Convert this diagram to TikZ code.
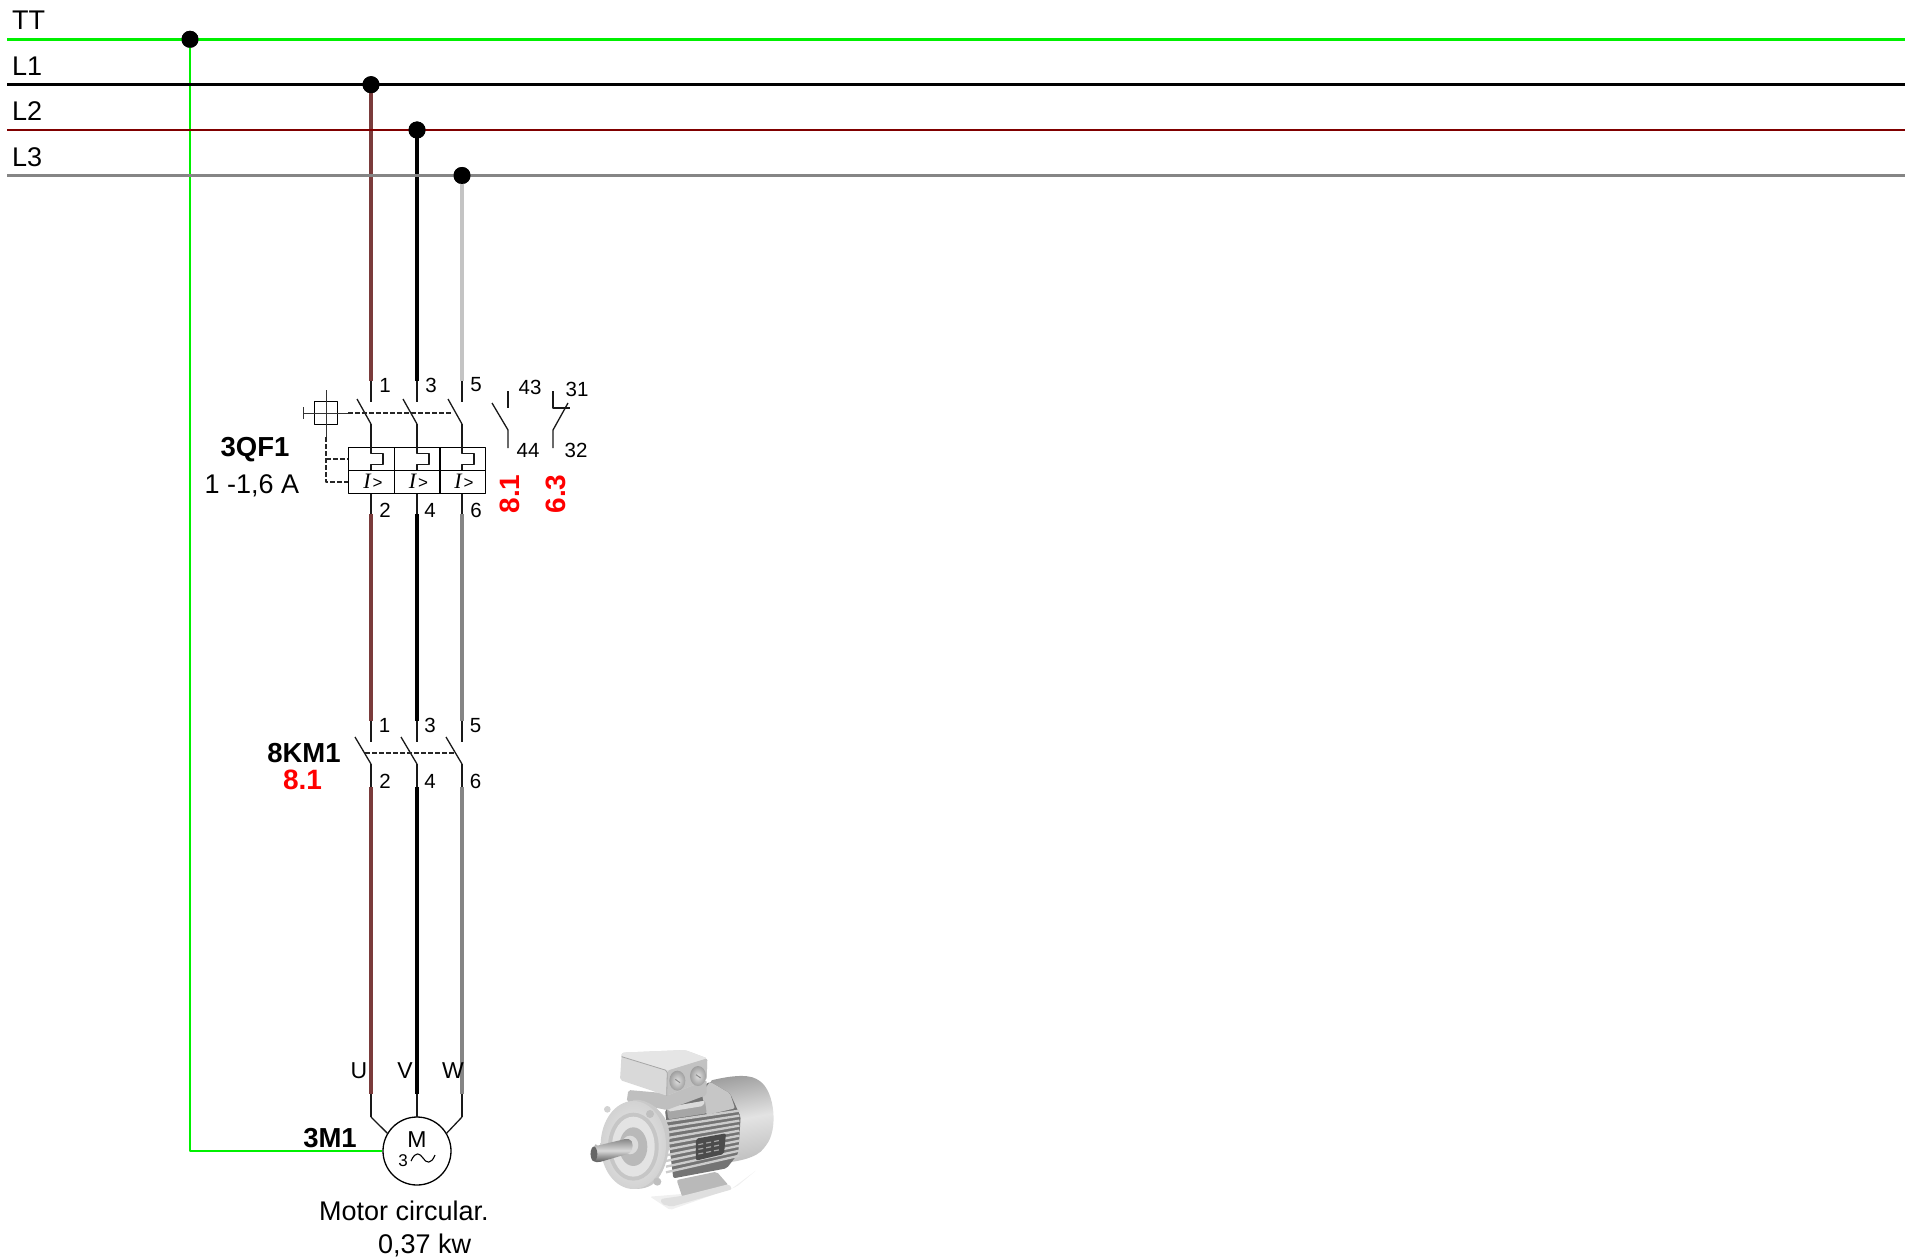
\documentclass[tikz,border=0pt]{standalone}
\usepackage{fontspec}
\usetikzlibrary{calc}
\setmainfont{Liberation Sans}
\newfontfamily\serifit{Liberation Serif}
\newfontfamily\sansgt{Liberation Sans}
\definecolor{gnd}{HTML}{00F000}
\definecolor{lb}{HTML}{800000}
\definecolor{brw}{HTML}{7A3B3B}
\definecolor{lg}{HTML}{C4C4C4}
\definecolor{mg}{HTML}{858585}
\definecolor{mred}{HTML}{FF0000}
\tikzset{
  thin line/.style={line width=1.3pt,black!90},
  bus/.style={line width=2.8pt},
  wire/.style={line width=3.8pt},
  ctrl/.style={line width=1.1pt,black!85,dash pattern=on 4.5pt off 2.5pt},
  dot/.style={circle,fill=black,inner sep=0pt,minimum size=17pt},
  sm/.style={font=\fontsize{20.5}{20.5}\selectfont,inner sep=0pt,anchor=base},
  big/.style={font=\fontsize{27}{27}\selectfont,inner sep=0pt,anchor=base},
  bold/.style={font=\fontsize{27.5}{27.5}\selectfont\bfseries,inner sep=0pt,anchor=base},
  redb/.style={font=\fontsize{28}{28}\selectfont\bfseries,text=mred,inner sep=0pt},
  mot/.style={font=\fontsize{23}{23}\selectfont,inner sep=0pt,anchor=base},
  il/.style={font=\fontsize{22}{22}\selectfont\serifit,inner sep=0pt,anchor=base},
  cell/.style={draw=black,line width=1.2pt}
}
\begin{document}
\begin{tikzpicture}[x=1pt,y=-1pt,line join=round]
\useasboundingbox (0,0) rectangle (1905,1260);
% bus ends
\foreach \n/\y in {TT/39.3,A/84.7,B/130,C/175.5}{
  \coordinate (s\n) at (7,\y); \coordinate (e\n) at (1905,\y);}
\node[dot] (dT) at (190,39.3) {};
\node[dot] (dA) at (371,84.7) {};
\node[dot] (dB) at (417,130) {};
\node[dot] (dC) at (462,175.5) {};
\node[circle,draw=black,line width=1.3pt,minimum size=68pt,inner sep=0pt,fill=white] (motor) at (417,1151) {};
% vertical drops first (under buses)
\draw[gnd,line width=2.8pt] (dT.center) |- (motor.west);
\foreach \d/\x/\c/\cc in {A/371/brw/brw,B/417/black/black,C/462/lg/mg}{
  \coordinate (t1\d) at (\x,381); \coordinate (t2\d) at (\x,402);
  \coordinate (h\d) at (\x,424); \coordinate (q1\d) at (\x,447);
  \coordinate (q2\d) at (\x,493); \coordinate (t3\d) at (\x,514);
  \coordinate (t4\d) at (\x,721); \coordinate (t5\d) at (\x,742);
  \coordinate (k\d) at (\x,764); \coordinate (t6\d) at (\x,787);
  \coordinate (t7\d) at (\x,1094); \coordinate (t8\d) at (\x,1117);
  \draw[wire,\c] (d\d.center) -- (t1\d);
  \draw[thin line] (t1\d) -- (t2\d);
  \draw[thin line] (h\d) -- (q1\d);
  \draw[thin line] (q2\d) -- (t3\d);
  \draw[wire,\cc] (t3\d) -- (t4\d);
  \draw[thin line] (t4\d) -- (t5\d);
  \draw[thin line] (k\d) -- (t6\d);
  \draw[wire,\cc] (t6\d) -- (t7\d);
  \draw[thin line] (t7\d) -- (t8\d);
  \draw[thin line] ($(h\d)+(-14,-25)$) -- (h\d);
  \draw[thin line] ($(k\d)+(-16,-27)$) -- (k\d);
}
% buses
\draw[bus,gnd] (sTT) -- (eTT);
\draw[bus,black] (sA) -- (eA);
\draw[bus,lb] (sB) -- (eB);
\draw[bus,mg] (sC) -- (eC);
\node[dot] at (dT) {}; \node[dot] at (dA) {}; \node[dot] at (dB) {}; \node[dot] at (dC) {};
\node[big,anchor=base west] (lT) at (12,29.5) {TT};
\node[big,anchor=base west] (l1) at (12,76) {L1};
\node[big,anchor=base west] (l2) at (12,121) {L2};
\node[big,anchor=base west] (l3) at (12,166.5) {L3};
% motor feeders
\draw[thin line] (t8A) -- (motor.149);
\draw[thin line] (t8B) -- (motor.north);
\draw[thin line] (t8C) -- (motor.31);
% breaker block
\foreach \x/\d in {348/A,394/B,439/C}{
  \node[cell,minimum width=46pt,minimum height=23pt,anchor=north west,inner sep=0pt] (u\d) at (\x,447) {};
  \node[cell,minimum width=46pt,minimum height=23pt,anchor=north west,inner sep=0pt] (v\d) at (\x,470) {};
}
\foreach \d in {A,B,C}{
  \draw[thin line] (q1\d) -- ++(0,6.5) -- ++(12,0) -- ++(0,11) -- ++(-12,0) -- ++(0,5.5);
}
\foreach \d/\x in {A/373,B/418.5,C/464}{
  \node[il] (i\d) at (\x,488) {\textit{I}\kern1pt{\fontsize{17}{17}\sansgt\selectfont>}};
}
% manual operator
\node[draw=black,line width=1.2pt,minimum size=23pt,inner sep=0pt] (op) at (326,413) {};
\coordinate (c1) at (326,390); \coordinate (c2) at (326,437);
\coordinate (c3) at (303,413); \coordinate (c4) at (348,413);
\coordinate (c5) at (453,413);
\coordinate (c6) at (326,459); \coordinate (c7) at (326,482);
\draw[line width=1pt,black!80] (c1) -- (c2);
\draw[line width=1pt,black!80] (c3) -- (c4);
\draw[line width=1pt,black!80] (303,407) -- (303,419);
\draw[ctrl] (c4) -- (c5);
\draw[ctrl] (c2) -- (c7) -- (vA.west |- c7);
\draw[ctrl] (c6) -- (uA.west |- c6);
% aux contacts
\coordinate (n1) at (508,391); \coordinate (n2) at (508,408);
\coordinate (n3) at (492,403); \coordinate (n4) at (508,430); \coordinate (n5) at (508,448);
\draw[thin line] (n1) -- (n2);
\draw[thin line] (n3) -- (n4) -- (n5);
\coordinate (o1) at (553,391); \coordinate (o2) at (553,408); \coordinate (o3) at (570,408);
\coordinate (o4) at (568,403); \coordinate (o5) at (553,430); \coordinate (o6) at (553,448);
\draw[thin line] (o1) -- (o2) -- (o3);
\draw[thin line] (o4) -- (o5) -- (o6);
% contactor link
\coordinate (k1) at (365,753); \coordinate (k2) at (455,753);
\draw[ctrl] (k1) -- (k2);
% numbers
\node[sm] (a1) at (385,392) {1}; \node[sm] (a3) at (431,392) {3}; \node[sm] (a5) at (476,391) {5};
\node[sm] (a43) at (530,394) {43}; \node[sm] (a31) at (577,396) {31};
\node[sm] (a44) at (528,457) {44}; \node[sm] (a32) at (576,457) {32};
\node[sm] (a2) at (385,517) {2}; \node[sm] (a4) at (430,517) {4}; \node[sm] (a6) at (476,517) {6};
\node[bold] (qf) at (255,456) {3QF1};
\node[big] (qa) at (252,493) {1 -1,6 A};
\node[redb,rotate=90,anchor=base] (r1) at (519.5,494) {8.1};
\node[redb,rotate=90,anchor=base] (r2) at (565.5,494) {6.3};
\node[sm] (b1) at (384.5,732) {1}; \node[sm] (b3) at (430,732) {3}; \node[sm] (b5) at (475.5,732) {5};
\node[sm] (b2) at (385,788) {2}; \node[sm] (b4) at (430,788) {4}; \node[sm] (b6) at (475.5,788) {6};
\node[bold] (km) at (304,762) {8KM1};
\node[redb,anchor=base] (km2) at (302.5,789) {8.1};
% motor labels
\node[mot] (U) at (359,1078) {U}; \node[mot] (V) at (405,1078) {V}; \node[mot] (W) at (453,1078) {W};
\node[bold] (m3) at (330,1147) {3M1};
\node[mot] (mM) at (417,1147) {M};
\node[font=\fontsize{17}{17}\selectfont,inner sep=0pt,anchor=base] (m33) at (403,1166) {3};
\coordinate (w1) at (411,1161); \coordinate (w2) at (435,1155);
\draw[line width=1.1pt] (w1) .. controls (416,1150) and (420,1154) .. (423,1158) .. controls (426,1163) and (431,1165) .. (w2);
\node[big,anchor=base west] (mc) at (319,1220) {Motor circular.};
\node[big,anchor=base west] (mk) at (378,1253) {0,37 kw};
% motor picture
\begin{scope}[shift={(570,1030)},x=0.3333pt,y=-0.3333pt,rounded corners=2pt]
 % soft floor shadow
 \fill[gray!12] (240,500) -- (480,480) -- (560,420) -- (500,470) -- (300,540) -- cycle;
 % rear cover
 \shade[left color=gray!75,right color=gray!50,middle color=gray!22,shading angle=10]
   (420,152) .. controls (470,140) and (530,130) .. (565,150) .. controls (615,185) and (625,300) .. (585,350)
   .. controls (560,385) and (500,395) .. (450,400) -- cycle;
 % body
 \fill[gray!85!black!95] (285,240) -- (420,155) -- (480,190) -- (512,260) -- (505,370) -- (470,415) -- (310,445) -- cycle;
 % top shroud
 \fill[gray!45] (395,190) -- (420,155) -- (480,190) -- (495,235) -- (410,255) -- cycle;
 \fill[gray!70] (290,232) -- (405,212) -- (410,250) -- (295,268) -- cycle;
 \fill[gray!28] (290,232) -- (405,212) -- (400,228) -- (295,245) -- cycle;
 % fins
 \foreach \k in {0,...,9}{
   \draw[gray!40,line width=2.3pt] (288,{274+\k*17}) -- (508,{242+\k*15});
 }
 % plate
 \fill[black!70] (378,326) -- (468,310) -- (462,372) -- (378,392) -- cycle;
 \foreach \k in {0,1,2}{\draw[gray!70,line width=1.2pt,dash pattern=on 5pt off 3pt] (385,{344+\k*14}) -- (455,{330+\k*14});}
 % feet
 \fill[gray!55] (320,450) -- (440,425) -- (475,465) -- (340,510) -- cycle;
 \fill[gray!25] (272,507) -- (340,497) -- (478,462) -- (486,478) -- (305,530) -- (275,522) -- cycle;
 % neck and terminal box
 \fill[gray!50] (175,180) -- (290,190) -- (410,150) -- (410,195) -- (290,240) -- (170,215) -- cycle;
 \fill[gray!30] (155,68) -- (345,60) -- (412,85) -- (410,150) -- (290,197) -- (150,150) -- cycle;
 \fill[gray!20] (155,68) -- (345,60) -- (412,85) -- (292,122) -- (155,80) -- cycle;
 \fill[gray!48] (292,122) -- (412,85) -- (410,150) -- (290,197) -- cycle;
 \draw[gray!70,line width=.8pt] (155,80) -- (292,122) -- (290,197);
 \foreach \cx/\cy in {322/152,384/138}{
   \shade[inner color=gray!25,outer color=gray!75] (\cx,\cy) ellipse (24 and 30);
   \draw[gray!90,line width=1pt] (\cx-6,\cy-4) -- (\cx+8,\cy+6);
 }
 % flange
 \fill[gray!42] (185,210) .. controls (230,205) and (280,240) .. (295,290) .. controls (305,350) and (290,420) .. (250,462) .. controls (220,480) and (190,478) .. (170,470) -- cycle;
 \shade[inner color=gray!15,outer color=gray!35] (190,345) ellipse (98 and 132);
 \fill[gray!45] (190,350) ellipse (76 and 102);
 \fill[gray!22] (190,350) ellipse (64 and 90);
 \fill[gray!55] (190,350) ellipse (42 and 58);
 \fill[gray!28] (180,345) ellipse (25 and 28);
 \fill[gray!50] (240,252) circle (12);
 \fill[gray!50] (262,455) circle (12);
 \fill[gray!35] (112,238) circle (10);
 % shaft
 \shade[top color=gray!95,bottom color=black!65,middle color=gray!30]
   (78,348) -- (170,326) .. controls (192,330) and (192,362) .. (172,372) -- (86,397) .. controls (58,395) and (56,352) .. (78,348) -- cycle;
 \fill[black!60] (72,372) ellipse (10 and 22);
\end{scope}
\end{tikzpicture}
\end{document}
